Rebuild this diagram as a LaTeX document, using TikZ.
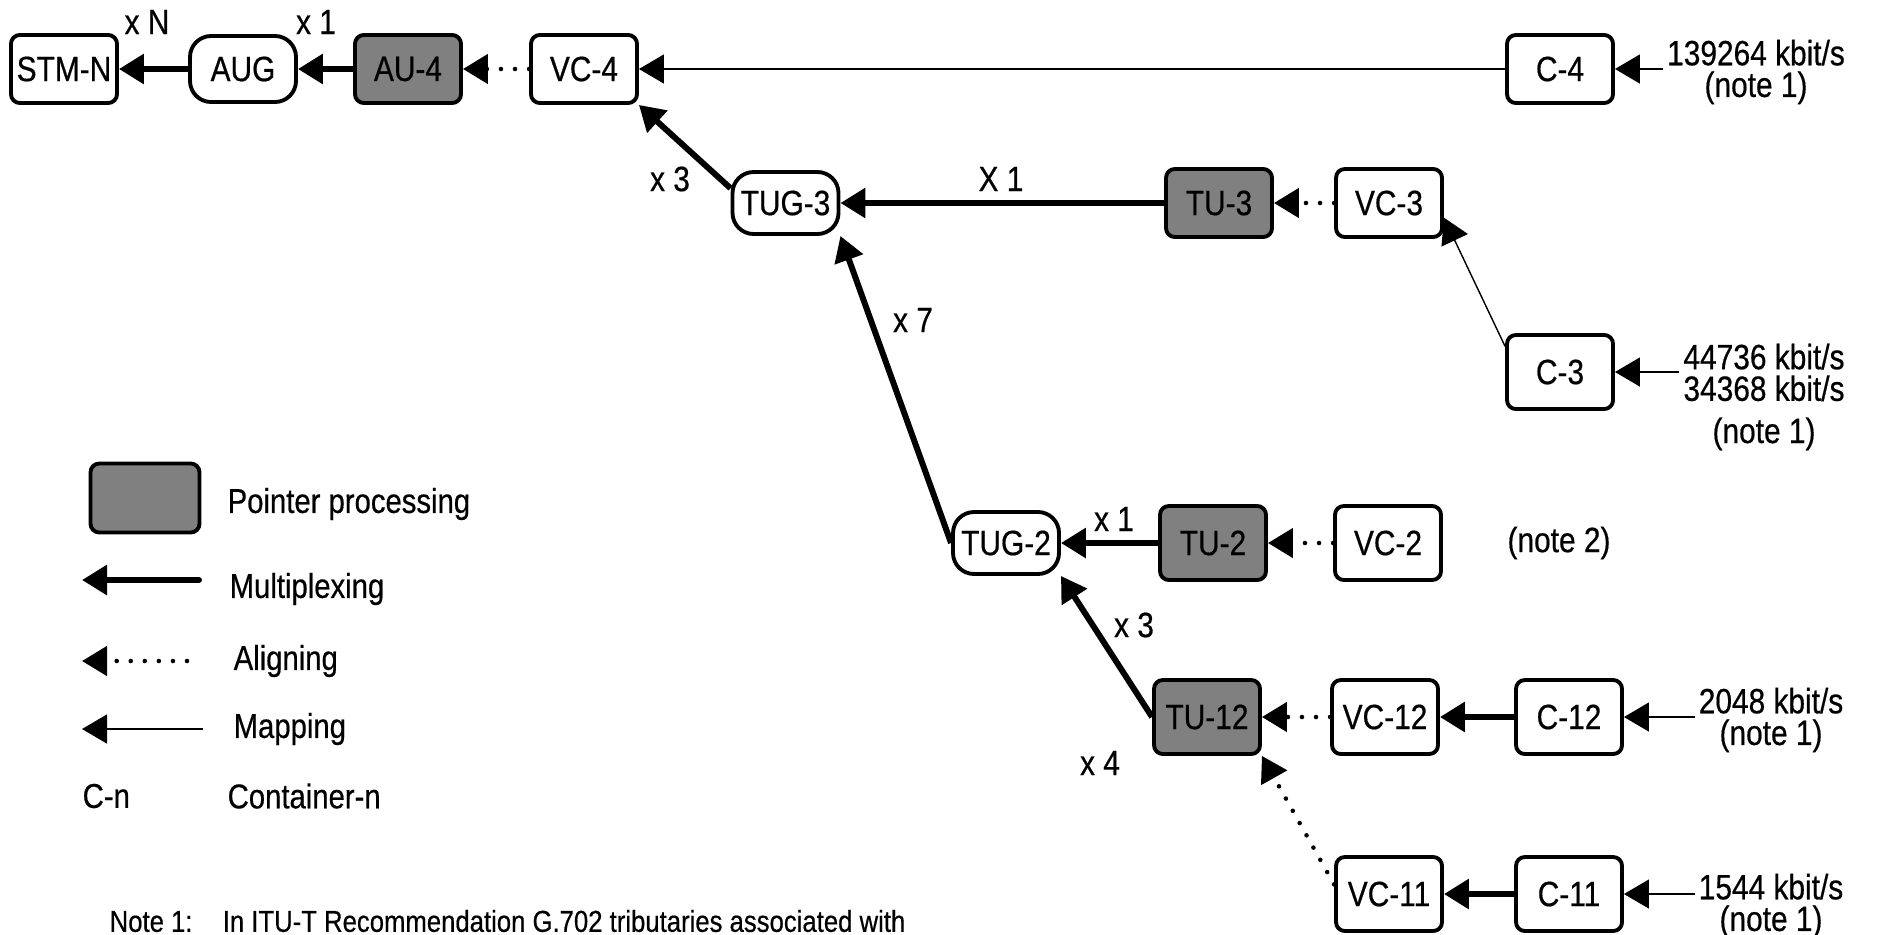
\documentclass[tikz,border=0pt]{standalone}
\usepackage{fontspec}
\setmainfont[FakeStretch=0.85, FakeBold=0.5]{Liberation Sans}
\usetikzlibrary{arrows.meta}
\definecolor{ptrgray}{RGB}{128,128,128}

\begin{document}
\begin{tikzpicture}[
    box/.style={draw, line width=1.1pt, rounded corners=2.5pt, minimum width=1.06cm,
        minimum height=0.68cm, inner sep=1pt, font=\fontsize{10}{11}\selectfont},
    tall/.style={box, minimum height=0.74cm},
    grp/.style={box, rounded corners=6pt, minimum height=0.62cm},
    ptr/.style={fill=ptrgray},
    mult/.style={font=\fontsize{10}{11}\selectfont},
    rate/.style={align=center, inner sep=1pt, font=\fontsize{10}{9}\selectfont},
    legtext/.style={anchor=west, inner sep=0pt, font=\fontsize{9.8}{11}\selectfont},
    mux/.style={line width=1.7pt, -{Triangle[length=2.5mm,width=2.9mm]}},
    aligning/.style={line width=1.3pt, line cap=round, dash pattern=on 0pt off 4pt,
        -{Triangle[length=2.5mm,width=2.9mm]}},
    mapping/.style={line width=0.4pt, -{Triangle[length=2.5mm,width=2.9mm]}}
]
    \useasboundingbox (0,0) rectangle (18.92,9.34);

    % 上行
    \node[box] (stm) at (0.64,8.65) {STM-N};
    \node[grp, minimum height=0.66cm] (aug) at (2.43,8.65) {AUG};
    \node[box, ptr] (au4) at (4.08,8.65) {AU-4};
    \node[box] (vc4) at (5.84,8.65) {VC-4};
    \node[box] (c4) at (15.60,8.65) {C-4};
    \node[rate] (r4) at (17.56,8.62) {139264 kbit/s\\(note 1)};

    % TUG-3 分支
    \node[grp] (tug3) at (7.855,7.31) {TUG-3};
    \node[box, ptr] (tu3) at (12.19,7.31) {TU-3};
    \node[box] (vc3) at (13.89,7.31) {VC-3};
    \node[tall] (c3) at (15.60,5.62) {C-3};
    \node[rate] (r3) at (17.64,5.37) {44736 kbit/s\\34368 kbit/s\\[3pt](note 1)};

    % TUG-2 分支
    \node[grp] (tug2) at (10.06,3.91) {TUG-2};
    \node[tall, ptr] (tu2) at (12.13,3.91) {TU-2};
    \node[tall] (vc2) at (13.88,3.91) {VC-2};
    \node[rate] (n2) at (15.59,3.91) {(note 2)};

    \node[tall, ptr] (tu12) at (12.07,2.17) {TU-12};
    \node[tall] (vc12) at (13.85,2.17) {VC-12};
    \node[tall] (c12) at (15.69,2.17) {C-12};
    \node[rate] (r12) at (17.71,2.14) {2048 kbit/s\\(note 1)};

    \node[tall] (vc11) at (13.89,0.40) {VC-11};
    \node[tall] (c11) at (15.69,0.40) {C-11};
    \node[rate] (r11) at (17.71,0.28) {1544 kbit/s\\(note 1)};

    % 复用系数
    \foreach \x/\y/\t [count=\k] in {1.47/9.12/x N, 3.16/9.12/x 1, 6.70/7.55/x 3,
        10.01/7.55/X 1, 9.13/6.14/x 7, 11.14/4.15/x 1, 11.34/3.09/x 3, 11.00/1.71/x 4}
        \node[mult] (m\k) at (\x,\y) {\t};

    % 连线
    \draw[mux] (aug) -- (stm);
    \draw[mux] (au4) -- (aug);
    \draw[aligning] (vc4) -- (au4);
    \draw[mapping] (c4) -- (vc4);
    \draw[mapping] (r4.west |- c4) -- (c4);
    \draw[mux] (tug3.165) -- (vc4.south east);
    \draw[mux] (tu3) -- (tug3);
    \draw[aligning] (vc3) -- (tu3);
    \draw[mapping] (c3.155) -- (vc3.-15);
    \draw[mapping] (r3.west |- c3) -- (c3);
    \draw[mux] (tug2.west) -- (tug3.south east);
    \draw[mux] (tu2) -- (tug2);
    \draw[aligning] (vc2) -- (tu2);
    \draw[mux] (tu12.west) -- (tug2.south east);
    \draw[aligning] (vc12) -- (tu12);
    \draw[mux] (c12) -- (vc12);
    \draw[mapping] (r12.west |- c12) -- (c12);
    \draw[aligning] (vc11.170) -- (tu12.south east);
    \draw[mux] (c11) -- (vc11);
    \draw[mapping] (r11.west |- c11) -- (c11);

    % 图例
    \node[box, ptr, minimum width=1.09cm, minimum height=0.69cm] (lgptr) at (1.45,4.36) {};
    \node[legtext] (lgptrt) at (2.27,4.30) {Pointer processing};
    \coordinate (lgmuxa) at (1.99,3.54);
    \coordinate (lgmuxb) at (0.82,3.54);
    \draw[mux, line cap=round] (lgmuxa) -- (lgmuxb);
    \node[legtext] (lgmuxt) at (2.29,3.45) {Multiplexing};
    \coordinate (lgalia) at (1.87,2.73);
    \coordinate (lgalib) at (0.82,2.73);
    \draw[aligning] (lgalia) -- (lgalib);
    \node[legtext] (lgalit) at (2.33,2.73) {Aligning};
    \coordinate (lgmapa) at (2.03,2.05);
    \coordinate (lgmapb) at (0.82,2.05);
    \draw[mapping] (lgmapa) -- (lgmapb);
    \node[legtext] (lgmapt) at (2.33,2.05) {Mapping};
    \node[legtext] (lgcn) at (0.82,1.38) {C-n};
    \node[legtext] (lgcnt) at (2.27,1.38) {Container-n};

    % 注释
    \node[legtext, font=\fontsize{8.6}{10}\selectfont] (note1) at (1.09,0.13)
        {Note 1:\quad In ITU-T Recommendation G.702 tributaries associated with};
\end{tikzpicture}
\end{document}
